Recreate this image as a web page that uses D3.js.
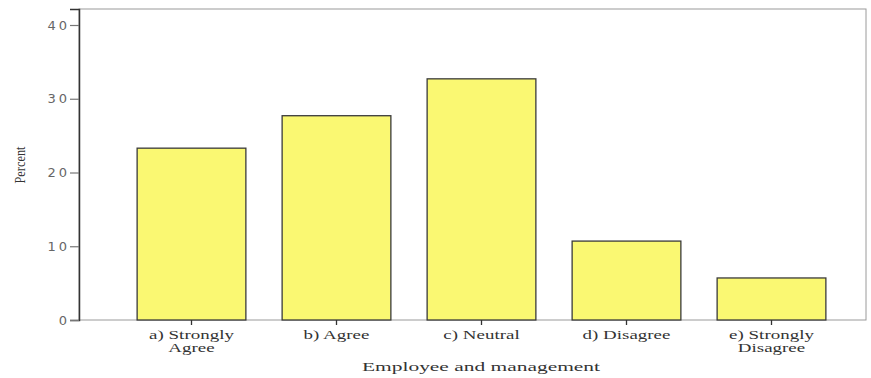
<!DOCTYPE html>
<html><head><meta charset="utf-8">
<script src="https://cdn.jsdelivr.net/npm/d3@7"></script>
<style>body{margin:0;background:#fff}svg{display:block}</style>
</head><body>
<svg id="c" width="871" height="378"></svg>
<script>
const categories = [["a) Strongly","Agree"],["b) Agree"],["c) Neutral"],["d) Disagree"],["e) Strongly","Disagree"]];
const values = [23.3, 27.7, 32.7, 10.7, 5.7];
const yTicks = [0, 10, 20, 30, 40];
const xTitle = "Employee and management";
const yTitle = "Percent";

const svg = d3.select("#c");
const L = 79, T = 9, R = 866, B = 320;
const keys = categories.map(c => c.join(" "));
const x = d3.scaleBand().domain(keys).range([119, 844]).paddingInner(0.25).paddingOuter(0.125);
const y = d3.scaleLinear().domain([0, 42.17]).range([B, T]);

// frame
svg.append("rect").attr("x", L).attr("y", T).attr("width", R - L).attr("height", B - T)
  .attr("fill", "none").attr("stroke", "#9a9a9a").attr("stroke-width", 1);

// bars
svg.append("g").selectAll("rect").data(values).join("rect")
  .attr("x", (d, i) => x(keys[i]))
  .attr("y", d => y(d))
  .attr("width", x.bandwidth())
  .attr("height", d => B - y(d))
  .attr("fill", "#faf872").attr("stroke", "#3a3a3a").attr("stroke-width", 1.3);

// y axis
const ya = svg.append("g").attr("transform", `translate(${L},0)`)
  .call(d3.axisLeft(y).tickValues(yTicks).tickSize(9).tickPadding(0));
ya.select(".domain").attr("stroke", "#333").attr("stroke-width", 1.5);
ya.selectAll(".tick line").attr("stroke", "#777").attr("stroke-width", 1.2);
ya.selectAll("text").attr("font-family", "DejaVu Sans").attr("font-size", 13)
  .attr("letter-spacing", 3).attr("fill", "#666");

// x axis
const xa = svg.append("g").attr("transform", `translate(0,${B})`)
  .call(d3.axisBottom(x).tickSize(5).tickFormat(""));
xa.select(".domain").remove();
xa.selectAll(".tick line").attr("stroke", "#333").attr("stroke-width", 1.3);
xa.selectAll(".tick").each(function(d, i) {
  categories[i].forEach((line, j) => {
    d3.select(this).append("text").attr("text-anchor", "middle")
      .attr("transform", `translate(0,${19 + j * 13}) scale(1.65,1)`)
      .attr("font-family", "Liberation Serif").attr("font-size", 11.5).attr("fill", "#333")
      .text(line);
  });
});

svg.append("g").attr("transform", `translate(481,371)`)
  .append("text").attr("transform", "scale(1.65,1)").attr("text-anchor", "middle")
  .attr("font-family", "Liberation Serif").attr("font-size", 13).attr("fill", "#333").text(xTitle);

svg.append("text").attr("transform", "translate(25,165) rotate(-90)").attr("text-anchor", "middle")
  .attr("font-family", "Liberation Serif").attr("font-size", 15).attr("fill", "#333")
  .attr("textLength", 37).attr("lengthAdjust", "spacingAndGlyphs").text(yTitle);
</script>
</body></html>
